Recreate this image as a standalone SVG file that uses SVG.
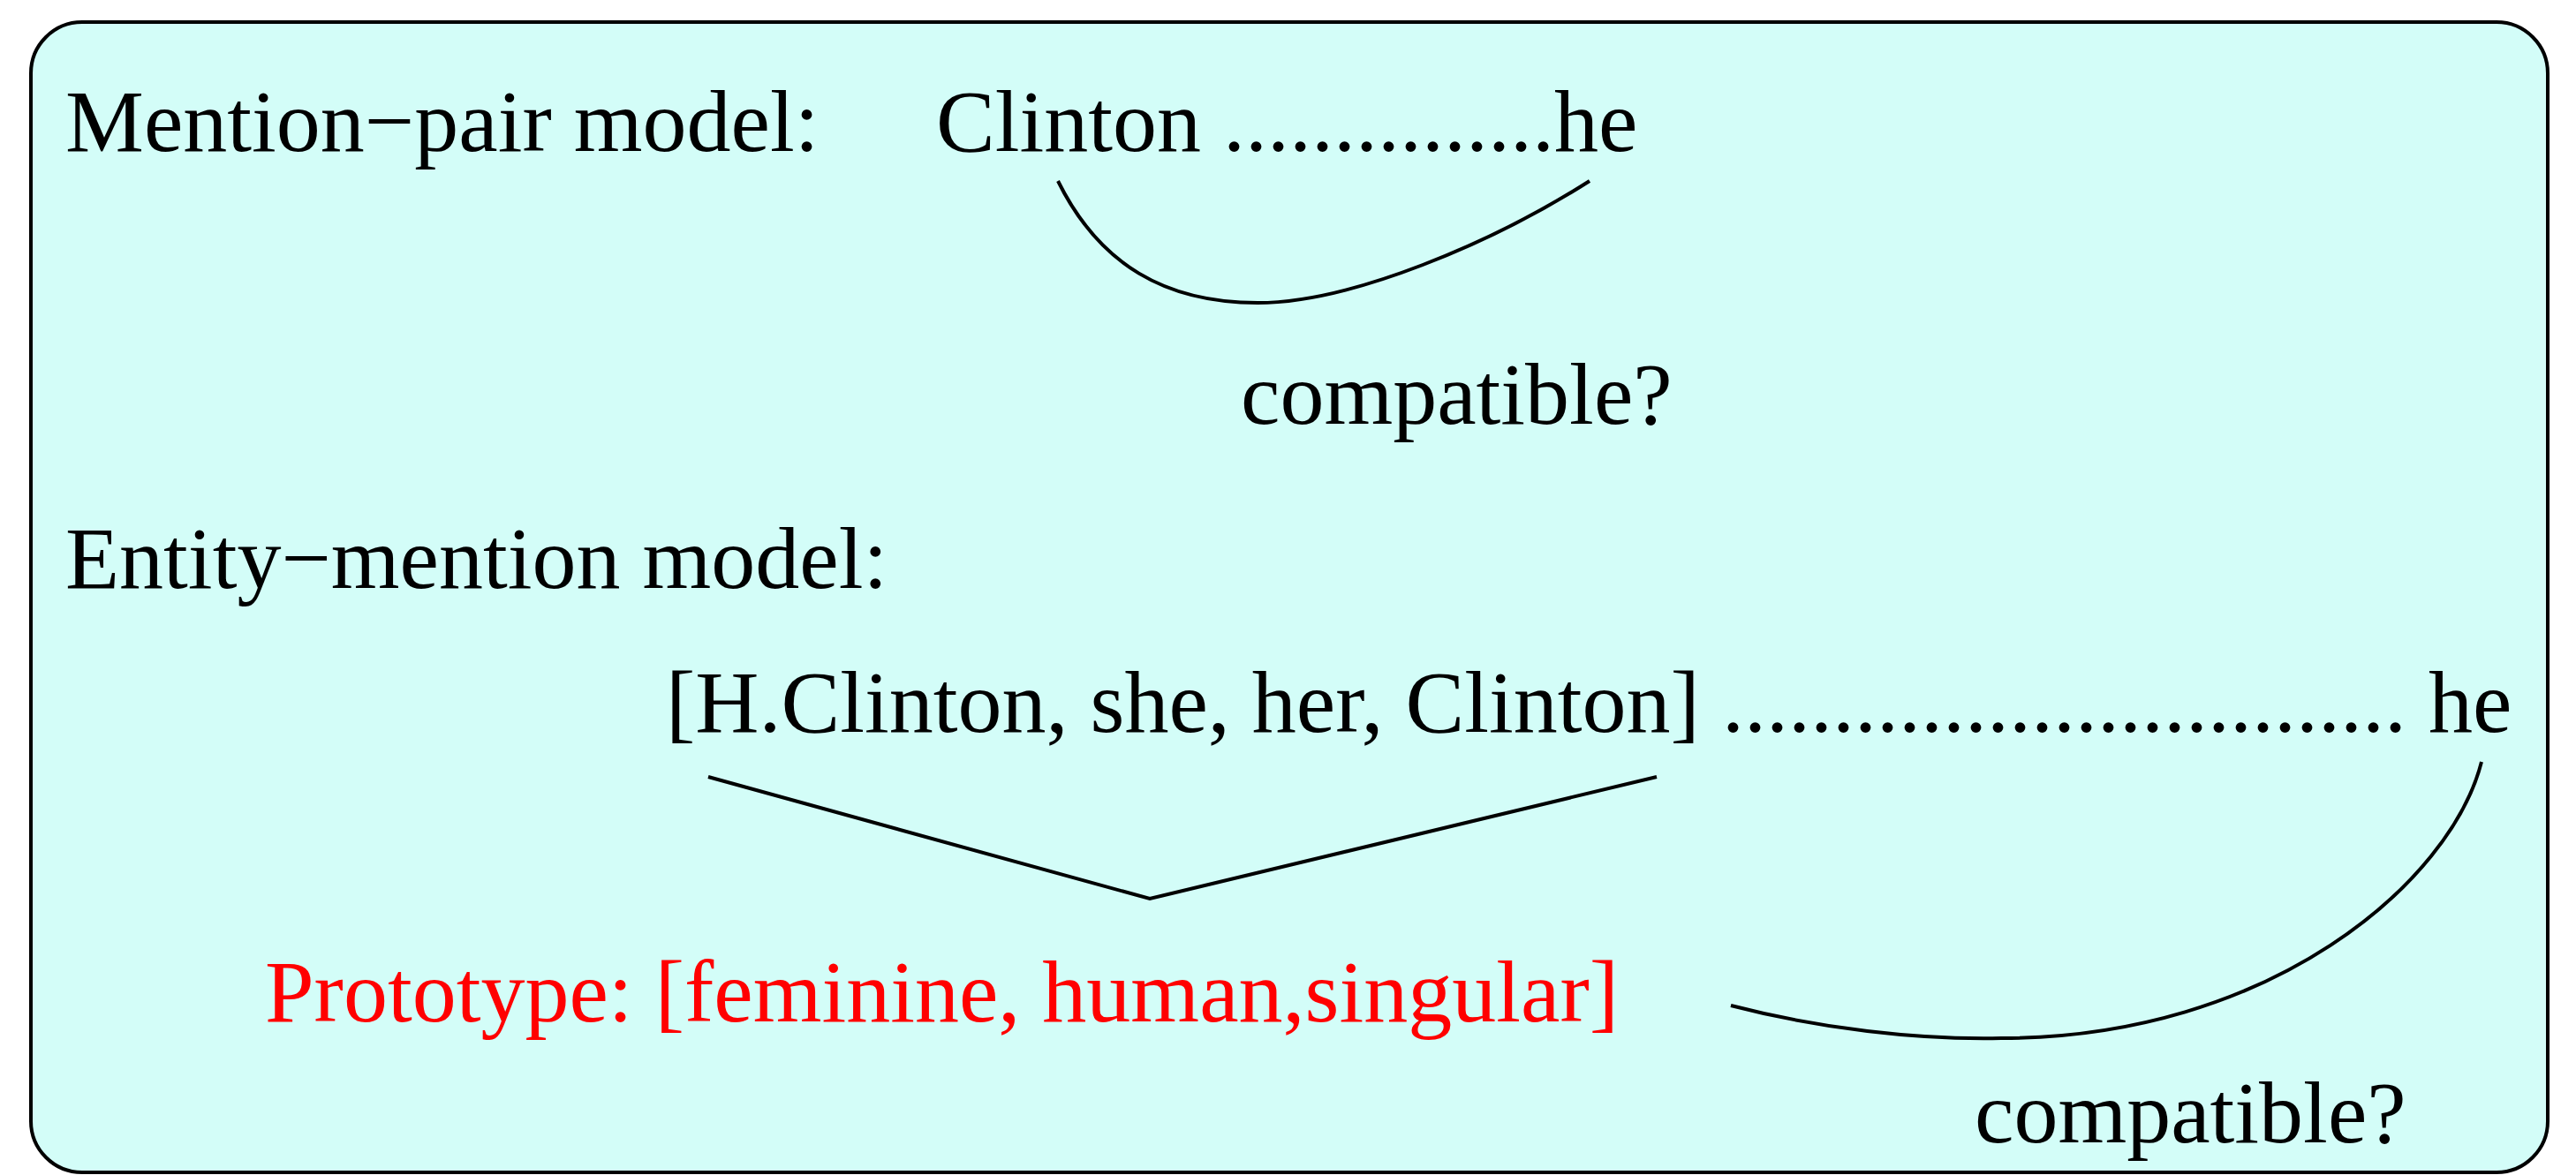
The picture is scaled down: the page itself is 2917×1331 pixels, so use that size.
<svg xmlns="http://www.w3.org/2000/svg" width="2917" height="1331" viewBox="0 0 2917 1331">
<style>
text{font-family:"Liberation Serif","Times New Roman",serif;font-size:100px;fill:#000}
.red{fill:#ff0000}
.conn{fill:none;stroke:#000;stroke-width:4}
</style>
<rect width="2917" height="1331" fill="#fff"/>
<g id="frame">
<rect x="35" y="25" width="2850" height="1303" rx="58" ry="58" fill="#d3fdf8" stroke="#000" stroke-width="4"/>
</g>
<g id="mention-pair-label"><text x="74" y="171">Mention−pair model:</text></g>
<g id="mention-pair-text"><text x="1060" y="171">Clinton ...............he</text></g>
<g id="compatible-1"><text x="1405" y="480">compatible?</text></g>
<g id="entity-mention-label"><text x="74" y="666">Entity−mention model:</text></g>
<g id="entity-text"><text x="754" y="829">[H.Clinton, she, her, Clinton] ............................... he</text></g>
<g id="prototype"><text class="red" x="300" y="1157">Prototype: [feminine, human,singular]</text></g>
<g id="compatible-2"><text x="2236" y="1294">compatible?</text></g>
<g id="connectors">
<path class="conn" d="M1198,205 C1245,300 1320,343 1424,343 C1530,343 1690,275 1800,205"/>
<path class="conn" d="M802,880 L1302,1018 L1876,880"/>
<path class="conn" d="M1960,1139 C2060,1165 2170,1178 2266,1176 C2570,1176 2775,1000 2810,863"/>
</g>
</svg>
